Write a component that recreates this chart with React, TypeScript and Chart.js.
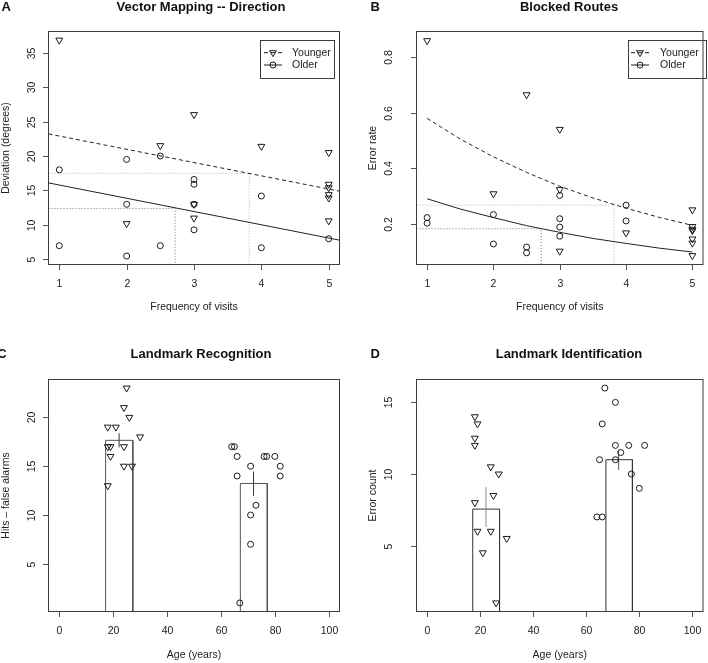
import React, { useEffect, useRef } from "react";
import { Chart, registerables } from "chart.js";
Chart.register(...registerables);

const FONT = '"Liberation Sans", Arial, Helvetica, sans-serif';

// ---------- Panel A: Vector Mapping -- Direction ----------
const aXRange = [0.84, 5.16];
const aYRange = [4.27, 38.05];
const aYoungerX = [1, 2, 2.5, 3, 3, 3, 4, 5, 5, 5, 5, 5, 5];
const aYoungerY = [36.8, 10.2, 21.5, 26.0, 13.0, 11.0, 21.4, 20.5, 15.9, 15.4, 14.4, 13.9, 10.6];
const aOlderX = [1, 1, 2, 2, 2, 2.5, 2.5, 3, 3, 3, 3, 4, 4, 5];
const aOlderY = [18.0, 7.0, 19.5, 13.0, 5.5, 20.0, 7.0, 16.6, 15.9, 13.0, 9.3, 14.2, 6.7, 8.0];
const aFitX = [0.84, 5.16];
const aYoungerFit = [23.2, 14.9];
const aOlderFit = [16.1, 7.8];
const aRefX = [3.82, 2.72];
const aRefY = [17.5, 12.4];
const aXTicks = [1, 2, 3, 4, 5];
const aYTicks = [5, 10, 15, 20, 25, 30, 35];

// ---------- Panel B: Blocked Routes ----------
const bXRange = [0.84, 5.16];
const bYRange = [0.053, 0.893];
const bYoungerX = [1, 2, 2.5, 3, 3, 3, 4, 5, 5, 5, 5, 5, 5, 5];
const bYoungerY = [0.86, 0.308, 0.665, 0.54, 0.323, 0.101, 0.167, 0.25, 0.19, 0.18, 0.175, 0.145, 0.13, 0.085];
const bOlderX = [1, 1, 2, 2, 2.5, 2.5, 3, 3, 3, 3, 4, 4];
const bOlderY = [0.222, 0.202, 0.233, 0.127, 0.116, 0.095, 0.302, 0.218, 0.188, 0.155, 0.267, 0.21];
const bFitX = [1, 1.5, 2, 2.5, 3, 3.5, 4, 4.5, 5];
const bYoungerFit = [0.58, 0.505, 0.441, 0.385, 0.335, 0.293, 0.256, 0.223, 0.194];
const bOlderFit = [0.29, 0.253, 0.222, 0.193, 0.169, 0.147, 0.129, 0.112, 0.098];
const bRefX = [3.82, 2.72];
const bRefY = [0.267, 0.182];
const bXTicks = [1, 2, 3, 4, 5];
const bYTicks = [0.2, 0.4, 0.6, 0.8];
const bYTickLabels = ["0.2", "0.4", "0.6", "0.8"];

// ---------- Panel C: Landmark Recognition ----------
const cXRange = [-4, 104];
const cYRange = [0.12, 23.88];
const cYoungerAge = [25, 24, 26, 18, 21, 30, 18, 19, 24, 19, 24, 27, 18];
const cYoungerScore = [23, 21, 20, 19, 19, 18, 17, 17, 17, 16, 15, 15, 13];
const cOlderAge = [64, 65, 66, 76, 77, 80, 71, 82, 66, 82, 73, 71, 71, 67];
const cOlderScore = [17, 17, 16, 16, 16, 16, 15, 15, 14, 14, 11, 10, 7, 1];
const cBarLeft = [17.2, 67.2];
const cBarRight = [27.3, 77.2];
const cBarMean = [17.65, 13.23];
const cErrX = [22.2, 72.1];
const cErrLow = [16.94, 11.97];
const cErrHigh = [18.37, 14.45];
const cYTicks = [5, 10, 15, 20];

// ---------- Panel D: Landmark Identification ----------
const dXRange = [-4, 104];
const dYRange = [0.4, 16.6];
const dYoungerAge = [18, 19, 18, 18, 24, 27, 25, 18, 19, 24, 30, 21, 26];
const dYoungerErr = [14, 13.5, 12.5, 12, 10.5, 10, 8.5, 8, 6, 6, 5.5, 4.5, 1];
const dOlderAge = [67, 71, 66, 71, 76, 82, 73, 65, 71, 77, 80, 64, 66];
const dOlderErr = [16, 15, 13.5, 12, 12, 12, 11.5, 11, 11, 10, 9, 7, 7];
const dBarLeft = [17.2, 67.4];
const dBarRight = [27.3, 77.4];
const dBarMean = [7.55, 11.0];
const dErrX = [22.2, 72.2];
const dErrLow = [6.3, 10.29];
const dErrHigh = [9.08, 11.68];
const dYTicks = [5, 10, 15];

const ageTicks = [0, 20, 40, 60, 80, 100];

type P = { x: number; y: number };
const pts = (xs: number[], ys: number[]): P[] => xs.map((x, i) => ({ x, y: ys[i] }));

function pointsDs(xs: number[], ys: number[], younger: boolean) {
  return {
    data: pts(xs, ys),
    pointStyle: younger ? "triangle" : "circle",
    pointRotation: younger ? 180 : 0,
    pointRadius: younger ? 4 : 3,
    pointHoverRadius: younger ? 4 : 3,
    pointBorderColor: "#1a1a1a",
    pointBackgroundColor: "rgba(0,0,0,0)",
    pointBorderWidth: 1,
    showLine: false,
    clip: false,
    order: 0,
  };
}

function lineDs(data: P[], color: string, dash: number[], order = 1) {
  return {
    data,
    showLine: true,
    borderColor: color,
    borderWidth: 1,
    borderDash: dash,
    pointRadius: 0,
    pointHoverRadius: 0,
    fill: false,
    tension: 0,
    clip: 0,
    order,
  };
}

function refPath(rx: number, ry: number, xMin: number, yMin: number): P[] {
  return [
    { x: xMin, y: ry },
    { x: rx, y: ry },
    { x: rx, y: yMin },
  ];
}

function barPath(l: number, r: number, h: number): P[] {
  return [
    { x: l, y: 0 },
    { x: l, y: h },
    { x: r, y: h },
    { x: r, y: 0 },
  ];
}

function errPath(x: number, lo: number, hi: number): P[] {
  return [
    { x, y: lo },
    { x, y: hi },
  ];
}

interface Legend {
  x0: number; x1: number; y0: number; y1: number;
  rows: number[]; segX0: number; segX1: number; textX: number;
}

interface Spec {
  key: string; left: number; top: number; width: number; height: number;
  pad: { left: number; top: number; right: number; bottom: number };
  xRange: number[]; yRange: number[];
  xTicks: number[]; xTickLabels: string[]; yTicks: number[]; yTickLabels: string[];
  yTickX: number; yTitleX: number; xTitleY: number;
  letter: string; letterX: number; title: string; titleX: number; titleY: number;
  xTitle: string; yTitle: string;
  legend?: Legend;
  datasets: any[];
}

function drawTri(ctx: CanvasRenderingContext2D, x: number, y: number, r: number) {
  ctx.beginPath();
  ctx.moveTo(x, y + r);
  ctx.lineTo(x - 0.866 * r, y - 0.5 * r);
  ctx.lineTo(x + 0.866 * r, y - 0.5 * r);
  ctx.closePath();
  ctx.stroke();
}
function drawCircle(ctx: CanvasRenderingContext2D, x: number, y: number, r: number) {
  ctx.beginPath();
  ctx.arc(x, y, r, 0, Math.PI * 2);
  ctx.stroke();
}

function makePlugin(s: Spec) {
  return {
    id: "rstyle" + s.key,
    afterDraw(chart: any) {
      const ctx: CanvasRenderingContext2D = chart.ctx;
      const ca = chart.chartArea;
      const xs = chart.scales.x;
      const ys = chart.scales.y;
      ctx.save();
      ctx.setLineDash([]);
      ctx.lineWidth = 1;
      ctx.strokeStyle = "#3c3c3c";
      ctx.strokeRect(ca.left, ca.top, ca.right - ca.left, ca.bottom - ca.top);

      ctx.strokeStyle = "#555";
      ctx.fillStyle = "#222";
      ctx.font = `10.5px ${FONT}`;
      ctx.textAlign = "center";
      ctx.textBaseline = "middle";
      s.xTicks.forEach((t, i) => {
        const px = Math.round(xs.getPixelForValue(t)) + 0.5;
        ctx.beginPath();
        ctx.moveTo(px, ca.bottom);
        ctx.lineTo(px, ca.bottom + 5.5);
        ctx.stroke();
        ctx.fillText(s.xTickLabels[i], px, ca.bottom + 19.3);
      });
      s.yTicks.forEach((t, i) => {
        const py = Math.round(ys.getPixelForValue(t)) + 0.5;
        ctx.beginPath();
        ctx.moveTo(ca.left - 5.5, py);
        ctx.lineTo(ca.left, py);
        ctx.stroke();
        ctx.save();
        ctx.translate(s.yTickX, py);
        ctx.rotate(-Math.PI / 2);
        ctx.fillText(s.yTickLabels[i], 0, 0);
        ctx.restore();
      });

      // axis titles
      ctx.fillText(s.xTitle, (ca.left + ca.right) / 2, s.xTitleY);
      ctx.save();
      ctx.translate(s.yTitleX, (ca.top + ca.bottom) / 2);
      ctx.rotate(-Math.PI / 2);
      ctx.fillText(s.yTitle, 0, 0);
      ctx.restore();

      // title + panel letter
      ctx.fillStyle = "#111";
      ctx.font = `bold 13px ${FONT}`;
      ctx.fillText(s.title, s.titleX, s.titleY);
      ctx.fillText(s.letter, s.letterX, s.titleY);

      // legend
      const lg = s.legend;
      if (lg) {
        ctx.strokeStyle = "#3c3c3c";
        ctx.strokeRect(lg.x0, lg.y0, lg.x1 - lg.x0, lg.y1 - lg.y0);
        ctx.font = `10.5px ${FONT}`;
        ctx.textAlign = "left";
        ctx.fillStyle = "#222";
        ctx.strokeStyle = "#1a1a1a";
        const mid = (lg.segX0 + lg.segX1) / 2;
        // Younger
        ctx.setLineDash([4, 3]);
        ctx.beginPath();
        ctx.moveTo(lg.segX0, lg.rows[0]);
        ctx.lineTo(lg.segX1, lg.rows[0]);
        ctx.stroke();
        ctx.setLineDash([]);
        drawTri(ctx, mid, lg.rows[0], 4);
        ctx.fillText("Younger", lg.textX, lg.rows[0]);
        // Older
        ctx.beginPath();
        ctx.moveTo(lg.segX0, lg.rows[1]);
        ctx.lineTo(lg.segX1, lg.rows[1]);
        ctx.stroke();
        drawCircle(ctx, mid, lg.rows[1], 3);
        ctx.fillText("Older", lg.textX, lg.rows[1]);
      }
      ctx.restore();
    },
  };
}

const specA: Spec = {
  key: "A", left: 0, top: 0, width: 354, height: 331,
  pad: { left: 48.5, top: 31.5, right: 14.5, bottom: 66.5 },
  xRange: aXRange, yRange: aYRange,
  xTicks: aXTicks, xTickLabels: aXTicks.map(String),
  yTicks: aYTicks, yTickLabels: aYTicks.map(String),
  yTickX: 31.7, yTitleX: 6, xTitleY: 307,
  letter: "A", letterX: 6.3, title: "Vector Mapping -- Direction", titleX: 201, titleY: 7,
  xTitle: "Frequency of visits", yTitle: "Deviation (degrees)",
  legend: { x0: 260.5, x1: 334.5, y0: 40.5, y1: 78.5, rows: [52.7, 65], segX0: 264, segX1: 282, textX: 292 },
  datasets: [
    pointsDs(aYoungerX, aYoungerY, true),
    pointsDs(aOlderX, aOlderY, false),
    lineDs(pts(aFitX, aYoungerFit), "#222", [4, 3]),
    lineDs(pts(aFitX, aOlderFit), "#222", []),
    lineDs(refPath(aRefX[0], aRefY[0], aXRange[0], aYRange[0]), "#aaa", [1, 2], 2),
    lineDs(refPath(aRefX[1], aRefY[1], aXRange[0], aYRange[0]), "#777", [1, 2], 2),
  ],
};

const specB: Spec = {
  key: "B", left: 354, top: 0, width: 354, height: 331,
  pad: { left: 62.5, top: 31.5, right: 1.5, bottom: 66.5 },
  xRange: bXRange, yRange: bYRange,
  xTicks: bXTicks, xTickLabels: bXTicks.map(String),
  yTicks: bYTicks, yTickLabels: bYTickLabels,
  yTickX: 35, yTitleX: 19, xTitleY: 307,
  letter: "B", letterX: 21.2, title: "Blocked Routes", titleX: 215, titleY: 7,
  xTitle: "Frequency of visits", yTitle: "Error rate",
  legend: { x0: 274.5, x1: 352.5, y0: 40.5, y1: 78.5, rows: [52.7, 65], segX0: 277, segX1: 295, textX: 306 },
  datasets: [
    pointsDs(bYoungerX, bYoungerY, true),
    pointsDs(bOlderX, bOlderY, false),
    lineDs(pts(bFitX, bYoungerFit), "#222", [4, 3]),
    lineDs(pts(bFitX, bOlderFit), "#222", []),
    lineDs(refPath(bRefX[0], bRefY[0], bXRange[0], bYRange[0]), "#aaa", [1, 2], 2),
    lineDs(refPath(bRefX[1], bRefY[1], bXRange[0], bYRange[0]), "#777", [1, 2], 2),
  ],
};

const specC: Spec = {
  key: "C", left: 0, top: 331, width: 354, height: 332,
  pad: { left: 48.5, top: 48.5, right: 14.5, bottom: 51.5 },
  xRange: cXRange, yRange: cYRange,
  xTicks: ageTicks, xTickLabels: ageTicks.map(String),
  yTicks: cYTicks, yTickLabels: cYTicks.map(String),
  yTickX: 31.7, yTitleX: 6, xTitleY: 324.5,
  letter: "C", letterX: 2, title: "Landmark Recognition", titleX: 201, titleY: 23,
  xTitle: "Age (years)", yTitle: "Hits \u2013 false alarms",
  datasets: [
    pointsDs(cYoungerAge, cYoungerScore, true),
    pointsDs(cOlderAge, cOlderScore, false),
    lineDs(errPath(cErrX[0], cErrLow[0], cErrHigh[0]), "#333", [], 1),
    lineDs(errPath(cErrX[1], cErrLow[1], cErrHigh[1]), "#333", [], 1),
    lineDs(barPath(cBarLeft[0], cBarRight[0], cBarMean[0]), "#555", [], 2),
    lineDs(barPath(cBarLeft[1], cBarRight[1], cBarMean[1]), "#555", [], 2),
  ],
};

const specD: Spec = {
  key: "D", left: 354, top: 331, width: 354, height: 332,
  pad: { left: 62.5, top: 48.5, right: 1.5, bottom: 51.5 },
  xRange: dXRange, yRange: dYRange,
  xTicks: ageTicks, xTickLabels: ageTicks.map(String),
  yTicks: dYTicks, yTickLabels: dYTicks.map(String),
  yTickX: 35, yTitleX: 19, xTitleY: 324.5,
  letter: "D", letterX: 21.2, title: "Landmark Identification", titleX: 215, titleY: 23,
  xTitle: "Age (years)", yTitle: "Error count",
  datasets: [
    pointsDs(dYoungerAge, dYoungerErr, true),
    pointsDs(dOlderAge, dOlderErr, false),
    lineDs(errPath(dErrX[0], dErrLow[0], dErrHigh[0]), "#888", [], 1),
    lineDs(errPath(dErrX[1], dErrLow[1], dErrHigh[1]), "#555", [], 1),
    lineDs(barPath(dBarLeft[0], dBarRight[0], dBarMean[0]), "#333", [], 2),
    lineDs(barPath(dBarLeft[1], dBarRight[1], dBarMean[1]), "#333", [], 2),
  ],
};

const specs = [specA, specB, specC, specD];

function Panel({ spec }: { spec: Spec }) {
  const ref = useRef<HTMLCanvasElement>(null);
  useEffect(() => {
    const chart = new Chart(ref.current as HTMLCanvasElement, {
      type: "scatter",
      data: { datasets: spec.datasets },
      options: {
        animation: false,
        responsive: false,
        maintainAspectRatio: false,
        devicePixelRatio: 1,
        events: [],
        layout: { padding: spec.pad },
        plugins: {
          legend: { display: false },
          title: { display: false },
          tooltip: { enabled: false },
        },
        scales: {
          x: { type: "linear", min: spec.xRange[0], max: spec.xRange[1], display: false },
          y: { type: "linear", min: spec.yRange[0], max: spec.yRange[1], display: false },
        },
      } as any,
      plugins: [makePlugin(spec)],
    });
    return () => chart.destroy();
  }, [spec]);
  return (
    <canvas
      ref={ref}
      width={spec.width}
      height={spec.height}
      style={{ position: "absolute", left: spec.left, top: spec.top, width: spec.width, height: spec.height }}
    />
  );
}

export default function App() {
  return (
    <div style={{ position: "fixed", left: 0, top: 0, width: 708, height: 663, background: "#fff", overflow: "hidden" }}>
      {specs.map((s) => (
        <Panel key={s.key} spec={s} />
      ))}
    </div>
  );
}
